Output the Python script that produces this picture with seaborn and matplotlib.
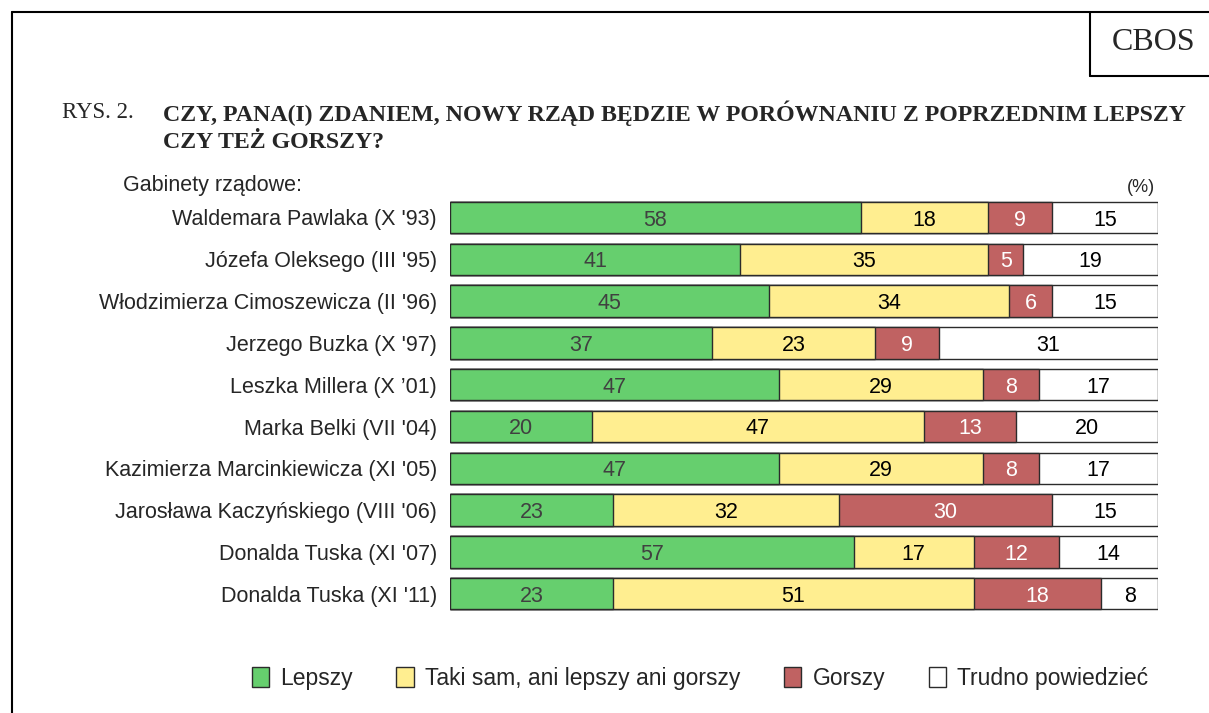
import seaborn as sns
import matplotlib.pyplot as plt
import pandas as pd
from matplotlib.patches import Patch
from matplotlib.lines import Line2D

gabinety = ["Waldemara Pawlaka (X '93)", "Józefa Oleksego (III '95)",
            "Włodzimierza Cimoszewicza (II '96)", "Jerzego Buzka (X '97)",
            "Leszka Millera (X ’01)", "Marka Belki (VII '04)",
            "Kazimierza Marcinkiewicza (XI '05)", "Jarosława Kaczyńskiego (VIII '06)",
            "Donalda Tuska (XI '07)", "Donalda Tuska (XI '11)"]
lepszy = [58, 41, 45, 37, 47, 20, 47, 23, 57, 23]
taki_sam = [18, 35, 34, 23, 29, 47, 29, 32, 17, 51]
gorszy = [9, 5, 6, 9, 8, 13, 8, 30, 12, 18]
trudno = [15, 19, 15, 31, 17, 20, 17, 15, 14, 8]
odpowiedzi = ["Lepszy", "Taki sam, ani lepszy ani gorszy", "Gorszy", "Trudno powiedzieć"]

kolory = ["#66cf6e", "#ffee90", "#c06262", "#ffffff"]
kolory_tekstu = ["#404040", "black", "white", "black"]

sns.set_style("white")
plt.rcParams["font.family"] = ["Liberation Sans", "DejaVu Sans"]

df = pd.DataFrame({"gabinet": gabinety, odpowiedzi[0]: lepszy, odpowiedzi[1]: taki_sam,
                   odpowiedzi[2]: gorszy, odpowiedzi[3]: trudno})
vals = df[odpowiedzi]
# shares normalised to the row total (some rows round to 101)
shares = vals.div(vals.sum(axis=1), axis=0) * 100
cum = shares.cumsum(axis=1)

W, H = 1209, 713
fig = plt.figure(figsize=(W / 100, H / 100), dpi=100)
ax = fig.add_axes([450 / W, 1 - 614.6 / H, 708 / W, 418 / H])

# stacked bars: draw cumulative totals from the outermost segment inwards
for k in range(3, -1, -1):
    d = pd.DataFrame({"gabinet": gabinety, "x": cum[odpowiedzi[k]]})
    sns.barplot(data=d, x="x", y="gabinet", color=kolory[k], saturation=1,
                edgecolor="#2b2b2b", linewidth=1, width=0.75, ax=ax)

for i in range(len(gabinety)):
    for k, col in enumerate(odpowiedzi):
        srodek = cum[col].iloc[i] - shares[col].iloc[i] / 2
        ax.text(srodek, i, str(vals[col].iloc[i]), ha="center", va="center_baseline",
                fontsize=15.5, color=kolory_tekstu[k])

ax.set_xlim(0, 100)
ax.set_xlabel("")
ax.set_ylabel("")
ax.set_xticks([])
ax.tick_params(axis="y", length=0, pad=9.5, labelsize=15.5)
sns.despine(ax=ax, left=True, bottom=True)

# frame and CBOS box
fig.add_artist(Line2D([12 / W, 12 / W], [0, 1 - 12 / H], color="black", lw=1.5))
fig.add_artist(Line2D([12 / W, 1], [1 - 12 / H, 1 - 12 / H], color="black", lw=1.5))
fig.add_artist(Line2D([1090 / W, 1090 / W], [1 - 12 / H, 1 - 76 / H], color="black", lw=1.5))
fig.add_artist(Line2D([1090 / W, 1], [1 - 76 / H, 1 - 76 / H], color="black", lw=1.5))
fig.text(1154 / W, 1 - 43 / H, "CBOS", ha="center", va="center", fontsize=23,
         family="Liberation Serif")

fig.text(62 / W, 1 - 113 / H, "RYS. 2.", ha="left", va="center", fontsize=16.5,
         family="Liberation Serif")
fig.text(163 / W, 1 - 113 / H, "CZY, PANA(I) ZDANIEM, NOWY RZĄD BĘDZIE W PORÓWNANIU Z POPRZEDNIM LEPSZY",
         ha="left", va="center", fontsize=17.2, family="Liberation Serif", weight="bold")
fig.text(163 / W, 1 - 142 / H, "CZY TEŻ GORSZY?", ha="left", va="center", fontsize=17.2,
         family="Liberation Serif", weight="bold")

fig.text(123 / W, 1 - 185 / H, "Gabinety rządowe:", ha="left", va="center", fontsize=15.5)
fig.text(1155 / W, 1 - 188 / H, "(%)", ha="right", va="center", fontsize=13)

handles = [Patch(facecolor=c, edgecolor="#2b2b2b", linewidth=1) for c in kolory]
fig.legend(handles, odpowiedzi, loc="center", bbox_to_anchor=(700 / W, 1 - 678 / H),
           ncol=4, frameon=False, fontsize=16.5, handlelength=0.75, handleheight=0.95,
           handletextpad=0.5, columnspacing=1.9)

fig.savefig("out.png", dpi=100)
